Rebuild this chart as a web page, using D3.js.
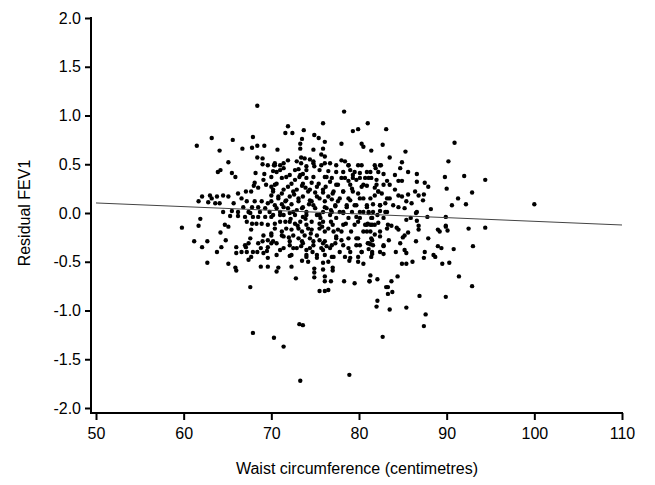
<!DOCTYPE html>
<html>
<head>
<meta charset="utf-8">
<script src="https://cdn.jsdelivr.net/npm/d3@7"></script>
<style>
  body { margin: 0; background: #fff; }
  text { font-family: "Liberation Sans", Arial, sans-serif; }
</style>
</head>
<body>
<div id="chart"></div>
<script>
// waist circumference (cm), residual FEV1
const points = [
  // outliers
  [68.4,1.10],[78.3,1.04],[75.9,0.92],[81.0,0.92],[83.1,0.86],[90.9,0.72],
  [67.9,-1.23],[70.3,-1.28],[71.4,-1.37],[73.2,-1.14],[73.6,-1.15],[73.3,-1.72],
  [78.9,-1.66],[82.7,-1.27],[87.4,-1.16],[100.0,0.09],[94.4,0.34],[92.9,0.21],
  [89.9,-0.14],[94.4,-0.15],[93.0,-0.34],[92.9,-0.75],
  // left part, upper
  [63.2,0.77],[61.5,0.69],[65.6,0.75],[67.9,0.78],[64.1,0.64],[66.7,0.66],[67.8,0.67],
  [68.4,0.69],[69.2,0.69],[68.4,0.57],[69.0,0.56],[69.0,0.50],[69.6,0.49],[70.3,0.49],
  [65.1,0.52],[63.9,0.42],[64.2,0.44],[65.5,0.41],[65.9,0.37],[68.2,0.41],[69.2,0.40],
  [70.2,0.43],[68.1,0.31],[69.1,0.34],[69.4,0.29],[68.0,0.28],[68.5,0.26],[70.0,0.27],
  [67.7,0.22],[67.1,0.22],[66.2,0.20],[66.6,0.15],[62.1,0.17],[63.0,0.18],[63.2,0.15],
  [63.8,0.17],[64.5,0.18],[65.1,0.17],[61.7,0.12],[62.8,0.11],[63.6,0.10],[64.1,0.10],
  [65.7,0.10],[67.2,0.12],[68.1,0.12],[68.9,0.12],[69.6,0.10],[70.0,0.18],[66.8,0.06],
  [67.8,0.06],[68.5,0.06],[69.3,0.05],[64.5,0.01],[65.5,0.02],[66.2,0.01],[67.4,0.01],
  [68.7,0.01],[69.8,0.01],
  // left part, lower
  [59.8,-0.15],[61.9,-0.06],[61.7,-0.13],[64.7,-0.12],[65.1,-0.14],[64.2,-0.20],
  [61.2,-0.29],[62.7,-0.29],[62.1,-0.35],[64.8,-0.28],[64.3,-0.35],[63.8,-0.40],
  [62.7,-0.51],[65.1,-0.52],[66.0,-0.35],[66.0,-0.41],[65.9,-0.56],[66.0,-0.59],
  [66.6,-0.40],[67.0,-0.33],[67.4,-0.31],[67.2,-0.40],[67.9,-0.40],[67.7,-0.45],
  [67.4,-0.48],[68.5,-0.31],[69.0,-0.29],[68.8,-0.36],[69.1,-0.41],[68.4,-0.40],
  [69.6,-0.35],[69.5,-0.39],[69.6,-0.46],[68.8,-0.55],[69.6,-0.55],[67.6,-0.76],
  [67.6,-0.26],[69.6,-0.28],[70.0,-0.21],[69.1,-0.23],[67.7,-0.17],[67.2,-0.09],
  [67.8,-0.11],[68.3,-0.11],[68.9,-0.11],[69.6,-0.12],[67.9,-0.04],[68.5,-0.04],
  [69.3,-0.04],[70.0,-0.04],[67.6,0.00],[65.3,-0.03],[66.2,-0.03],[67.0,-0.04],
  [70.0,-0.31],[67.1,-0.35],
  // middle, upper
  [71.9,0.89],[71.6,0.82],[72.4,0.82],[73.7,0.85],[74.9,0.80],[75.4,0.77],[73.5,0.76],
  [79.3,0.84],[79.9,0.86],[73.3,0.71],[76.1,0.73],[78.0,0.71],[80.3,0.71],[80.5,0.68],
  [70.7,0.65],[73.3,0.66],[74.8,0.65],[75.9,0.66],[75.7,0.60],[76.1,0.58],[73.4,0.57],
  [73.8,0.56],[74.4,0.55],[71.9,0.54],[70.4,0.49],[71.0,0.49],[71.4,0.46],[72.9,0.53],
  [74.8,0.53],[76.7,0.51],[78.0,0.54],[78.4,0.53],[78.8,0.49],[79.9,0.49],[75.7,0.49],
  [74.0,0.48],[74.9,0.48],[73.1,0.45],[70.6,0.42],[72.1,0.39],[73.3,0.39],[73.6,0.40],
  [76.5,0.43],[77.4,0.42],[79.0,0.44],[79.3,0.39],[80.1,0.41],[71.2,0.36],[72.7,0.34],
  [74.0,0.36],[74.6,0.31],[76.1,0.37],[76.7,0.32],[78.0,0.36],[78.8,0.33],[79.7,0.34],
  [80.7,0.36],[70.4,0.29],[71.9,0.27],[73.5,0.28],[75.2,0.27],[77.4,0.29],[79.2,0.25],
  [80.3,0.27],[70.2,0.22],[71.2,0.20],[72.5,0.22],[74.2,0.22],[75.9,0.21],[78.2,0.22],
  [79.9,0.20],[70.8,0.15],[71.7,0.13],[73.1,0.15],[74.4,0.13],[75.5,0.15],[76.9,0.14],
  [77.6,0.12],[79.0,0.13],[80.5,0.15],[70.4,0.08],[71.4,0.06],[72.3,0.09],[73.6,0.06],
  [74.8,0.08],[76.1,0.06],[77.3,0.07],[78.6,0.06],[79.7,0.08],[80.9,0.06],[71.0,0.01],
  [72.5,0.01],[74.0,0.01],[75.9,0.01],[78.2,0.01],[80.1,0.01],
  // middle, lower
  [71.0,-0.02],[72.1,0.00],[73.6,-0.04],[75.2,-0.02],[76.7,-0.02],[78.2,0.00],[79.7,-0.04],
  [70.4,-0.11],[71.6,-0.09],[72.7,-0.11],[74.0,-0.12],[75.5,-0.11],[77.0,-0.12],[78.5,-0.11],
  [79.9,-0.09],[80.9,-0.12],[71.2,-0.19],[72.3,-0.17],[73.5,-0.19],[74.6,-0.17],[76.1,-0.19],
  [77.6,-0.17],[79.1,-0.19],[70.0,-0.23],[71.4,-0.24],[73.1,-0.26],[74.4,-0.26],[75.5,-0.28],
  [77.4,-0.24],[78.0,-0.28],[79.9,-0.26],[70.6,-0.31],[72.1,-0.33],[73.6,-0.31],[74.8,-0.33],
  [75.9,-0.31],[77.3,-0.31],[79.7,-0.33],[81.1,-0.31],[71.0,-0.38],[72.5,-0.36],[74.0,-0.38],
  [75.9,-0.38],[76.7,-0.36],[78.8,-0.36],[80.3,-0.40],[76.1,-0.43],[72.1,-0.44],[74.0,-0.45],
  [75.2,-0.46],[76.9,-0.45],[79.0,-0.46],[73.5,-0.49],[74.2,-0.50],[75.9,-0.51],[76.5,-0.50],
  [78.9,-0.49],[79.9,-0.50],[80.5,-0.52],[72.3,-0.55],[70.8,-0.56],[70.6,-0.60],[74.9,-0.57],
  [74.9,-0.61],[75.9,-0.58],[77.0,-0.56],[77.0,-0.59],[72.8,-0.67],[74.9,-0.66],[76.1,-0.65],
  [76.1,-0.70],[76.8,-0.70],[78.3,-0.70],[79.5,-0.72],[81.2,-0.70],[75.5,-0.80],[76.1,-0.80],
  [76.5,-0.79],
  // right part, upper
  [82.7,0.70],[81.4,0.64],[85.3,0.63],[83.5,0.57],[84.9,0.52],[90.2,0.53],[81.9,0.46],
  [82.5,0.49],[84.7,0.46],[81.3,0.42],[85.6,0.42],[86.6,0.40],[82.8,0.40],[84.1,0.39],
  [89.8,0.37],[92.0,0.38],[81.1,0.36],[82.0,0.34],[83.2,0.33],[84.5,0.33],[84.9,0.33],
  [86.6,0.32],[87.5,0.31],[80.9,0.28],[81.8,0.26],[83.5,0.29],[87.9,0.27],[90.0,0.25],
  [82.2,0.22],[82.6,0.20],[84.1,0.24],[85.6,0.19],[86.4,0.22],[86.8,0.18],[87.4,0.19],
  [81.8,0.18],[84.5,0.18],[84.9,0.17],[83.5,0.15],[91.3,0.15],[85.4,0.12],[86.0,0.10],
  [87.3,0.13],[81.6,0.09],[82.4,0.08],[83.0,0.10],[83.9,0.08],[84.5,0.06],[85.2,0.05],
  [88.2,0.04],[90.6,0.08],[92.2,0.09],[81.1,0.01],[82.4,0.02],[83.2,0.01],[86.6,0.01],
  // right part, lower
  [81.1,0.00],[81.5,-0.05],[82.1,-0.02],[86.5,0.00],[87.8,-0.04],[89.9,-0.04],[92.5,-0.16],
  [85.4,-0.07],[85.9,-0.05],[86.6,-0.08],[83.3,-0.12],[83.7,-0.13],[83.2,-0.16],[84.3,-0.15],
  [84.5,-0.17],[82.2,-0.10],[81.0,-0.11],[81.3,-0.12],[81.5,-0.12],[86.8,-0.13],[86.8,-0.17],
  [89.0,-0.17],[89.2,-0.19],[89.9,-0.13],[90.1,-0.18],[80.9,-0.19],[81.8,-0.22],[82.4,-0.24],
  [85.2,-0.23],[85.6,-0.20],[85.0,-0.25],[83.4,-0.28],[87.9,-0.26],[81.5,-0.28],[81.0,-0.31],
  [81.3,-0.32],[84.7,-0.31],[86.5,-0.29],[82.8,-0.34],[89.0,-0.34],[89.4,-0.36],[90.8,-0.37],
  [81.1,-0.37],[81.5,-0.40],[84.2,-0.40],[85.2,-0.38],[85.4,-0.41],[87.5,-0.40],[88.5,-0.43],
  [88.7,-0.45],[81.5,-0.42],[82.8,-0.42],[87.4,-0.46],[86.1,-0.50],[84.9,-0.52],[85.4,-0.52],
  [89.5,-0.52],[90.3,-0.51],[81.3,-0.64],[81.2,-0.70],[82.1,-0.68],[84.4,-0.65],[83.7,-0.70],
  [91.4,-0.65],[83.3,-0.76],[83.1,-0.76],[83.8,-0.81],[83.3,-0.83],[86.9,-0.85],[89.9,-0.86],
  [82.1,-0.90],[82.0,-0.96],[83.5,-0.99],[85.4,-0.97],[87.6,-1.04],
  // dense core, left half
  [70.4,0.51],[71.4,0.51],[73.4,0.51],[74.8,0.51],[76.1,0.51],[71.0,0.44],[72.7,0.44],
  [74.0,0.44],[75.5,0.44],[70.0,0.37],[71.7,0.37],[73.2,0.37],[74.8,0.37],[76.3,0.37],
  [70.6,0.30],[72.3,0.30],[73.6,0.30],[75.4,0.30],[70.2,0.24],[71.4,0.24],[72.9,0.24],
  [74.4,0.24],[75.9,0.24],[70.8,0.17],[72.1,0.17],[73.6,0.17],[75.2,0.17],[76.5,0.17],
  [70.0,0.12],[71.6,0.12],[73.1,0.12],[74.6,0.12],[76.1,0.12],[70.6,0.05],[71.9,0.05],
  [73.5,0.05],[75.0,0.05],[76.3,0.05],[70.2,-0.02],[71.4,-0.02],[72.7,-0.02],[74.0,-0.02],
  [75.5,-0.02],[71.0,-0.09],[72.1,-0.09],[73.3,-0.09],[74.6,-0.09],[75.9,-0.09],[70.4,-0.16],
  [71.7,-0.16],[73.1,-0.16],[74.2,-0.16],[75.5,-0.16],[76.5,-0.16],[71.2,-0.23],[72.5,-0.23],
  [73.8,-0.23],[75.2,-0.23],[70.2,-0.29],[72.1,-0.29],[73.5,-0.29],[74.8,-0.29],[76.1,-0.29],
  [71.4,-0.36],[72.9,-0.36],[74.4,-0.36],[75.7,-0.36],[70.6,-0.43],[72.3,-0.43],[74.0,-0.43],
  [75.2,-0.43],
  [72.9,0.03],[73.9,-0.06],[74.3,0.09],[75.6,-0.05],[76.8,0.03],[73.0,-0.13],[74.5,-0.21],
  [75.8,-0.14],[72.6,0.19],[73.9,0.26],[75.0,0.21],[76.2,0.27],[72.0,-0.25],[73.4,-0.34],
  [74.7,-0.40],[76.3,-0.34],[71.2,0.09],[72.2,-0.06],[76.8,-0.09],[77.0,0.20],
  // dense core, right half
  [77.4,0.49],[78.8,0.49],[80.3,0.49],[81.8,0.49],[82.4,0.49],[78.2,0.42],[79.5,0.42],
  [80.9,0.42],[82.2,0.42],[76.9,0.36],[78.4,0.36],[79.3,0.36],[80.1,0.36],[81.4,0.36],
  [77.6,0.29],[79.0,0.29],[80.5,0.29],[82.0,0.29],[82.8,0.29],[77.1,0.22],[78.2,0.22],
  [79.3,0.22],[82.2,0.22],[77.8,0.15],[78.8,0.15],[80.1,0.15],[81.3,0.15],[83.2,0.15],
  [77.3,0.08],[78.6,0.08],[79.5,0.08],[80.9,0.08],[82.4,0.08],[76.9,0.01],[77.8,0.01],
  [79.2,0.01],[80.5,0.01],[81.6,0.01],[83.0,0.01],[77.4,-0.05],[78.8,-0.05],[80.1,-0.05],
  [81.4,-0.05],[82.8,-0.05],[78.2,-0.12],[79.5,-0.12],[80.7,-0.12],[81.8,-0.12],[77.1,-0.19],
  [78.0,-0.19],[80.5,-0.19],[81.3,-0.19],[82.4,-0.19],[77.4,-0.26],[78.8,-0.26],[79.7,-0.26],
  [81.4,-0.26],[76.9,-0.33],[78.2,-0.33],[80.1,-0.33],[81.6,-0.33],[82.8,-0.33],[77.8,-0.40],
  [79.0,-0.40],[80.3,-0.40],[82.4,-0.40],[77.1,-0.45],[78.4,-0.45],[79.9,-0.45],[81.4,-0.45]
]

// fitted regression line, ends read at the axis limits
const fitX = [50, 110]
const fitY = [0.103, -0.123]

const xTicks = [50, 60, 70, 80, 90, 100, 110]
const yTicks = [-2, -1.5, -1, -0.5, 0, 0.5, 1, 1.5, 2]

const width = 655
const height = 485

const svg = d3.select('#chart').append('svg')
  .attr('width', width)
  .attr('height', height)

const x = d3.scaleLinear().domain([50, 110]).range([96, 622])
const y = d3.scaleLinear().domain([-2, 2]).range([408, 18])

const axisX = 91   // y axis line position
const axisY = 413  // x axis line position

// y axis
const gy = svg.append('g')
  .attr('transform', 'translate(' + axisX + ',0)')
  .call(d3.axisLeft(y).tickValues(yTicks).tickFormat(d => d.toFixed(1))
    .tickSize(6).tickSizeOuter(0).tickPadding(4))
gy.select('.domain').remove()
gy.selectAll('line').attr('stroke', '#000').attr('stroke-width', 2)
gy.selectAll('text').attr('font-size', 16).attr('fill', '#000')

// x axis
const gx = svg.append('g')
  .attr('transform', 'translate(0,' + axisY + ')')
  .call(d3.axisBottom(x).tickValues(xTicks).tickFormat(d3.format('d'))
    .tickSize(7).tickSizeOuter(0).tickPadding(8))
gx.select('.domain').remove()
gx.selectAll('line').attr('stroke', '#000').attr('stroke-width', 2)
gx.selectAll('text').attr('font-size', 16).attr('fill', '#000')

// axis lines
svg.append('line')
  .attr('x1', axisX).attr('x2', axisX)
  .attr('y1', y(2) - 1).attr('y2', axisY + 1)
  .attr('stroke', '#000').attr('stroke-width', 2)
svg.append('line')
  .attr('x1', axisX - 1).attr('x2', x(110) + 1)
  .attr('y1', axisY).attr('y2', axisY)
  .attr('stroke', '#000').attr('stroke-width', 2)

// points
svg.append('g').selectAll('circle')
  .data(points)
  .join('circle')
  .attr('cx', d => x(d[0]))
  .attr('cy', d => y(d[1]))
  .attr('r', 2.2)
  .attr('fill', '#000')

// regression line
const line = d3.line()
  .x(d => x(d[0]))
  .y(d => y(d[1]))
svg.append('path')
  .datum(fitX.map((v, i) => [v, fitY[i]]))
  .attr('d', line)
  .attr('stroke', '#444')
  .attr('stroke-width', 1)
  .attr('fill', 'none')

// axis titles
svg.append('text')
  .attr('transform', 'translate(30,' + y(0) + ') rotate(-90)')
  .attr('text-anchor', 'middle')
  .attr('font-size', 16)
  .text('Residual FEV1')

svg.append('text')
  .attr('x', 357)
  .attr('y', 474)
  .attr('text-anchor', 'middle')
  .attr('font-size', 16)
  .text('Waist circumference (centimetres)')
</script>
</body>
</html>
